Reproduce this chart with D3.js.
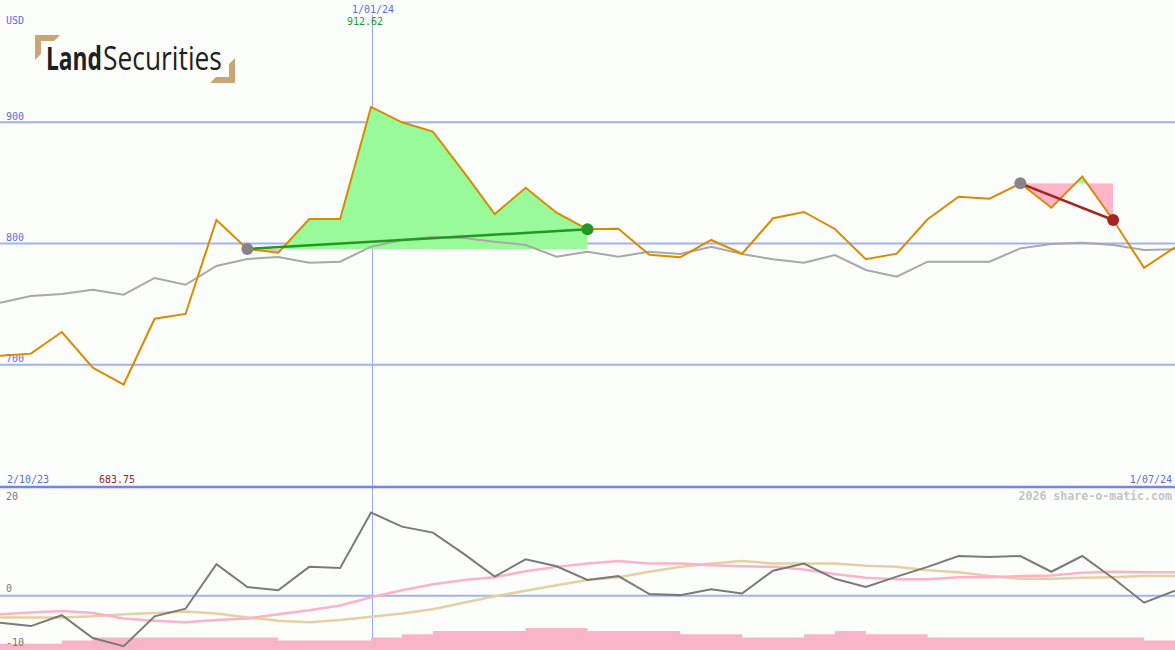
<!DOCTYPE html>
<html><head><meta charset="utf-8">
<script src="https://cdn.jsdelivr.net/npm/d3@7"></script>
<style>html,body{margin:0;padding:0;background:#fcfefc;overflow:hidden} svg{display:block}</style>
</head><body><svg id="c" width="1175" height="650"></svg>
<script>
// ---- data ----
const currency = "USD";
const startLabel = "2/10/23", endLabel = "1/07/24", markLabel = "1/01/24";
const markIndex = 12;
const maxLabel = "912.62", minLabel = "683.75";
const priceTicks = [700, 800, 900];
const oscTicks = [20, 0, -10];
const price = [707.5, 709.2, 727.0, 697.6, 683.75, 738.0, 741.9, 819.4, 795.5, 792.4, 820.2, 820.2, 912.62, 899.9, 892.2, 858.9, 824.3, 846.0, 825.4, 811.7, 812.2, 790.8, 788.6, 802.9, 791.6, 820.8, 826.0, 812.0, 787.0, 791.6, 820.0, 838.6, 836.9, 849.6, 829.5, 855.1, 819.4, 780.0, 796.9];
const movingAvg = [751.2, 756.7, 758.4, 761.9, 757.8, 771.6, 766.0, 781.5, 787.2, 788.9, 784.2, 785.0, 797.4, 802.9, 805.4, 804.5, 801.5, 798.8, 789.1, 793.2, 789.1, 793.2, 791.3, 797.4, 791.3, 787.0, 784.2, 790.5, 778.2, 772.6, 785.0, 785.0, 785.0, 796.0, 799.6, 800.7, 798.8, 794.6, 795.2];
const momentum = [-5.0, -5.6, -3.6, -7.8, -9.3, -3.8, -2.4, 5.8, 1.6, 1.0, 5.3, 5.1, 15.3, 12.7, 11.6, 7.7, 3.5, 6.7, 5.4, 2.9, 3.6, 0.3, 0.1, 1.2, 0.4, 4.6, 5.9, 3.1, 1.6, 3.5, 5.3, 7.3, 7.1, 7.3, 4.4, 7.3, 3.2, -1.3, 0.9];
const pinkAvg = [-3.4, -3.1, -2.8, -3.2, -4.2, -4.6, -4.9, -4.5, -4.2, -3.4, -2.7, -1.8, -0.3, 1.0, 2.1, 2.9, 3.4, 4.5, 5.3, 5.9, 6.4, 5.9, 5.9, 5.6, 5.4, 5.3, 4.8, 4.0, 3.3, 3.0, 3.0, 3.4, 3.4, 3.6, 3.7, 4.2, 4.4, 4.3, 4.3];
const tanAvg = [-4.0, -4.0, -4.0, -3.8, -3.4, -3.2, -2.9, -3.3, -4.0, -4.6, -4.9, -4.5, -3.9, -3.3, -2.5, -1.3, -0.1, 0.9, 1.9, 2.9, 3.4, 4.4, 5.3, 5.9, 6.4, 5.9, 5.9, 5.9, 5.5, 5.3, 4.7, 4.3, 3.6, 3.1, 3.1, 3.3, 3.4, 3.6, 3.6];
const volume = [2, 2, 3, 4, 4, 4, 4, 4, 4, 3, 3, 3, 4, 5, 6, 6, 6, 7, 7, 6, 6, 6, 5, 5, 4, 4, 5, 6, 5, 5, 4, 4, 4, 4, 4, 4, 4, 3];
const signalStart = [8, 33];
const signalEnd = [19, 36];
const signalColor = ["#229922", "#a82222"];

// ---- drawing ----
const W = 1175, H = 650;
const svg = d3.select("#c");
const font = "'DejaVu Sans Mono', monospace";
const x = d3.scaleLinear().domain([0, price.length - 1]).range([0, W]);
const y = d3.scaleLinear().domain([700, 900]).range([364.8, 122.2]);
const yo = d3.scaleLinear().domain([-10, 20]).range([650, 487]);
const yv = d3.scaleLinear().domain([0, 10]).range([650, 618.5]);

svg.append("rect").attr("width", W).attr("height", H).attr("fill", "#fcfefc");

// vertical marker line
const mx = Math.round(x(markIndex)) + 1;
svg.append("rect").attr("x", mx).attr("width", 1).attr("y", 15).attr("height", H - 15).attr("fill", "#98a8ff");

// price grid
priceTicks.forEach(t => {
  svg.append("line").attr("x1", 0).attr("x2", W).attr("y1", y(t)).attr("y2", y(t))
    .attr("stroke", "#a4b2f2").attr("stroke-width", 2);
  svg.append("text").attr("x", 6).attr("y", y(t) - 2.5).text(t)
    .attr("font-family", font).attr("font-size", 10).attr("fill", "#5a6cf0");
});

// signal regions
const defs = svg.append("defs");
signalStart.forEach((s, k) => {
  const e = signalEnd[k];
  const base = price[s];
  const idx = d3.range(s, e + 1);
  const area = d3.area().x(i => x(i)).y0(y(base)).y1(i => y(price[i]));
  defs.append("clipPath").attr("id", "up" + k).append("rect")
    .attr("x", x(s)).attr("width", x(e) - x(s)).attr("y", 0).attr("height", y(base));
  defs.append("clipPath").attr("id", "dn" + k).append("rect")
    .attr("x", x(s)).attr("width", x(e) - x(s)).attr("y", y(base)).attr("height", 487 - y(base));
  svg.append("path").attr("d", area(idx)).attr("fill", "#98fa98").attr("clip-path", `url(#up${k})`);
  svg.append("path").attr("d", area(idx)).attr("fill", "#ffb6c8").attr("clip-path", `url(#dn${k})`);
});

// moving average & price
const line = arr => d3.line().x((d, i) => x(i)).y(d => y(d))(arr);
svg.append("path").attr("d", line(movingAvg)).attr("fill", "none").attr("stroke", "#a8a8a8").attr("stroke-width", 2);
svg.append("path").attr("d", line(price)).attr("fill", "none").attr("stroke", "#dd8a00").attr("stroke-width", 2);

// trend lines and dots
signalStart.forEach((s, k) => {
  const e = signalEnd[k];
  svg.append("line").attr("x1", x(s)).attr("y1", y(price[s])).attr("x2", x(e)).attr("y2", y(price[e]))
    .attr("stroke", signalColor[k]).attr("stroke-width", 2.5);
  svg.append("circle").attr("cx", x(s)).attr("cy", y(price[s])).attr("r", 6).attr("fill", "#858585");
  svg.append("circle").attr("cx", x(e)).attr("cy", y(price[e])).attr("r", 6).attr("fill", signalColor[k]);
});

// panel separator
svg.append("line").attr("x1", 0).attr("x2", W).attr("y1", 487).attr("y2", 487)
  .attr("stroke", "#7484ee").attr("stroke-width", 2.5);

// lower panel
svg.append("line").attr("x1", 0).attr("x2", W).attr("y1", yo(0)).attr("y2", yo(0))
  .attr("stroke", "#a4b2f2").attr("stroke-width", 2);
const vArea = d3.area().curve(d3.curveStepAfter).x((d, i) => x(i)).y0(H).y1(d => yv(d));
svg.append("path").attr("d", vArea(volume.concat([volume[volume.length - 1]]))).attr("fill", "#fab4c8");
const oline = arr => d3.line().x((d, i) => x(i)).y(d => yo(d))(arr);
svg.append("path").attr("d", oline(tanAvg)).attr("fill", "none").attr("stroke", "#e4d0a0").attr("stroke-width", 2.5);
svg.append("path").attr("d", oline(pinkAvg)).attr("fill", "none").attr("stroke", "#fdb2c8").attr("stroke-width", 2.5);
svg.append("path").attr("d", oline(momentum)).attr("fill", "none").attr("stroke", "#7a7a7a").attr("stroke-width", 2);

const oscY = {20: 499.5, 0: 592, "-10": 646};
oscTicks.forEach(t => {
  svg.append("text").attr("x", 6).attr("y", oscY[t]).text(t)
    .attr("font-family", font).attr("font-size", 10).attr("fill", "#7a7a7a");
});

// labels
const txt = (s, xx, yy, col, anchor, size, weight) => svg.append("text").attr("x", xx).attr("y", yy).text(s)
  .attr("font-family", font).attr("font-size", size || 10).attr("fill", col)
  .attr("text-anchor", anchor || "start").attr("font-weight", weight || "normal");
txt(currency, 6, 24, "#5a6cf0");
txt(markLabel, 373, 13, "#5a6cf0", "middle");
txt(maxLabel, 365, 25, "#229922", "middle");
txt(startLabel, 7, 483, "#5a6cf0");
txt(minLabel, 99, 483, "#a82222");
txt(endLabel, 1172, 483, "#5a6cf0", "end");
txt("2026 share-o-matic.com", 1172, 500, "#c4c4c4", "end", 11.6, "bold");

// logo
const logo = svg.append("g");
logo.append("polygon").attr("points", "35,35 60,35 54,41 41,41 41,54 35,60").attr("fill", "#caa676");
logo.append("polygon").attr("points", "235,83 210,83 216,77 229,77 229,64 235,58").attr("fill", "#caa676");
function logoWord(word, x0, width, weight) {
  const g = logo.append("g");
  const t = g.append("text").attr("x", 0).attr("y", 0).attr("font-family", "'Open Sans', sans-serif")
    .attr("font-size", 32).attr("font-weight", weight).attr("fill", "#231f20").text(word);
  const w = t.node().getComputedTextLength() || width;
  g.attr("transform", `translate(${x0},70) scale(${width / w},1)`);
}
logoWord("Land", 46, 56, 700);
logoWord("Securities", 103, 119, 400);
</script></body></html>
